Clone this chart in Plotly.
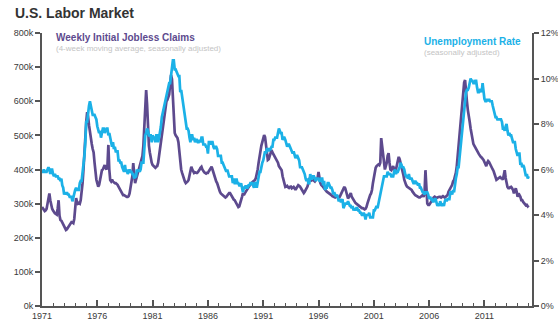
import plotly.graph_objects as go

# Monthly series, January 1971 through January 2015
start_year = 1971

# Weekly initial jobless claims, 4-week moving average (thousands), monthly readings
claims_k = [
    290, 285, 280, 278, 280, 285, 300, 315, 330, 310, 290, 285,   # 1971
    280, 275, 272, 270, 268, 285, 310, 265, 252, 250, 245, 240,   # 1972
    235, 228, 223, 225, 230, 235, 240, 245, 246, 245, 243, 255,   # 1973
    300, 316, 305, 300, 302, 300, 310, 330, 360, 400, 460, 520,   # 1974
    540, 568, 555, 530, 507, 490, 475, 460, 450, 420, 390, 370,   # 1975
    360, 350, 355, 370, 385, 398, 400, 410, 413, 405, 400, 410,   # 1976
    472, 400, 369, 365, 370, 365, 362, 360, 360, 358, 355, 350,   # 1977
    345, 340, 335, 330, 325, 325, 323, 322, 320, 320, 322, 330,   # 1978
    345, 360, 380, 419, 375, 360, 370, 380, 390, 400, 415, 428,   # 1979
    430, 440, 470, 540, 610, 633, 590, 520, 470, 450, 430, 420,   # 1980
    413, 410, 408, 405, 408, 410, 420, 440, 470, 478, 500, 520,   # 1981
    545, 570, 585, 600, 604, 610, 620, 650, 677, 665, 600, 540,   # 1982
    507, 500, 495, 492, 480, 450, 419, 400, 390, 380, 370, 365,   # 1983
    360, 362, 365, 369, 380, 395, 408, 400, 395, 390, 392, 390,   # 1984
    390, 392, 395, 400, 405, 408, 400, 395, 392, 390, 388, 390,   # 1985
    390, 395, 400, 405, 408, 400, 390, 378, 370, 365, 360, 350,   # 1986
    340, 335, 330, 328, 325, 322, 320, 318, 320, 325, 328, 331,   # 1987
    331, 325, 320, 315, 312, 310, 305, 300, 295, 290, 292, 300,   # 1988
    310, 320, 331, 325, 330, 335, 340, 345, 349, 352, 355, 360,   # 1989
    362, 365, 367, 369, 375, 385, 400, 420, 440, 457, 470, 480,   # 1990
    490, 501, 495, 470, 440, 428, 430, 440, 450, 457, 450, 445,   # 1991
    440, 435, 430, 428, 420, 410, 405, 400, 398, 380, 370, 360,   # 1992
    349, 350, 352, 348, 346, 349, 350, 345, 348, 349, 345, 340,   # 1993
    345, 350, 354, 352, 350, 345, 340, 335, 331, 335, 340, 345,   # 1994
    350, 360, 375, 370, 368, 372, 370, 368, 365, 369, 372, 375,   # 1995
    393, 370, 360, 355, 350, 349, 345, 340, 338, 335, 333, 331,   # 1996
    331, 328, 325, 322, 320, 320, 318, 320, 322, 320, 318, 320,   # 1997
    325, 330, 335, 340, 349, 345, 335, 320, 315, 320, 325, 331,   # 1998
    320, 315, 310, 305, 302, 300, 298, 295, 293, 290, 288, 287,   # 1999
    287, 285, 283, 285, 290, 300, 310, 320, 325, 330, 340, 360,   # 2000
    380, 398, 405, 410, 413, 415, 413, 420, 492, 470, 440, 408,   # 2001
    400, 410, 420, 440, 448, 420, 400, 398, 405, 410, 400, 398,   # 2002
    400, 410, 420, 437, 430, 420, 410, 398, 385, 370, 360, 355,   # 2003
    350, 348, 346, 345, 343, 340, 335, 330, 328, 325, 323, 320,   # 2004
    320, 318, 318, 320, 322, 325, 320, 330, 398, 360, 300, 296,   # 2005
    296, 300, 305, 310, 315, 318, 320, 318, 316, 318, 320, 320,   # 2006
    320, 318, 320, 322, 320, 318, 320, 322, 325, 335, 340, 345,   # 2007
    349, 355, 365, 369, 380, 390, 410, 440, 466, 490, 520, 554,   # 2008
    590, 630, 655, 662, 640, 600, 574, 560, 540, 520, 500, 486,   # 2009
    475, 470, 466, 460, 455, 450, 445, 440, 437, 435, 432, 428,   # 2010
    422, 415, 410, 420, 425, 422, 415, 410, 404, 400, 395, 385,   # 2011
    375, 370, 372, 375, 378, 378, 375, 375, 370, 385, 398, 375,   # 2012
    360, 349, 345, 345, 348, 349, 345, 340, 330, 340, 345, 335,   # 2013
    320, 330, 325, 320, 310, 310, 305, 302, 300, 295, 296, 292,   # 2014
    295,                                                          # 2015
]

# Civilian unemployment rate (%), seasonally adjusted
unemployment_pct = [
    5.9, 5.9, 6.0, 5.9, 5.9, 5.9, 6.0, 6.1, 6.0, 5.8, 6.0, 6.0,   # 1971
    5.8, 5.7, 5.8, 5.7, 5.7, 5.7, 5.6, 5.6, 5.5, 5.6, 5.3, 5.2,   # 1972
    4.9, 5.0, 4.9, 5.0, 4.9, 4.9, 4.8, 4.8, 4.8, 4.6, 4.8, 4.9,   # 1973
    5.1, 5.2, 5.1, 5.1, 5.1, 5.4, 5.5, 5.5, 5.9, 6.0, 6.6, 7.2,   # 1974
    8.1, 8.1, 8.6, 8.8, 9.0, 8.8, 8.6, 8.4, 8.4, 8.4, 8.3, 8.2,   # 1975
    7.9, 7.7, 7.6, 7.7, 7.4, 7.6, 7.8, 7.8, 7.6, 7.7, 7.8, 7.8,   # 1976
    7.5, 7.6, 7.4, 7.2, 7.0, 7.2, 6.9, 7.0, 6.8, 6.8, 6.8, 6.4,   # 1977
    6.4, 6.3, 6.3, 6.1, 6.0, 5.9, 6.2, 5.9, 6.0, 5.8, 5.9, 6.0,   # 1978
    5.9, 5.9, 5.8, 5.8, 5.6, 5.7, 5.7, 6.0, 5.9, 6.0, 5.9, 6.0,   # 1979
    6.3, 6.3, 6.3, 6.9, 7.5, 7.6, 7.8, 7.7, 7.5, 7.5, 7.5, 7.2,   # 1980
    7.5, 7.4, 7.4, 7.2, 7.5, 7.5, 7.2, 7.4, 7.6, 7.9, 8.3, 8.5,   # 1981
    8.6, 8.9, 9.0, 9.3, 9.4, 9.6, 9.8, 9.8, 10.1, 10.4, 10.8, 10.8,  # 1982
    10.4, 10.4, 10.3, 10.2, 10.1, 10.1, 9.4, 9.5, 9.2, 8.8, 8.5, 8.3,  # 1983
    8.0, 7.8, 7.8, 7.7, 7.4, 7.2, 7.5, 7.5, 7.3, 7.4, 7.2, 7.3,   # 1984
    7.3, 7.2, 7.2, 7.3, 7.2, 7.4, 7.4, 7.1, 7.1, 7.1, 7.0, 7.0,   # 1985
    6.7, 7.2, 7.2, 7.1, 7.2, 7.2, 7.0, 6.9, 7.0, 7.0, 6.9, 6.6,   # 1986
    6.6, 6.6, 6.6, 6.3, 6.3, 6.2, 6.1, 6.0, 5.9, 6.0, 5.8, 5.7,   # 1987
    5.7, 5.7, 5.7, 5.4, 5.6, 5.4, 5.4, 5.6, 5.4, 5.4, 5.3, 5.3,   # 1988
    5.4, 5.2, 5.0, 5.2, 5.2, 5.3, 5.2, 5.2, 5.3, 5.3, 5.4, 5.4,   # 1989
    5.4, 5.3, 5.2, 5.4, 5.4, 5.2, 5.5, 5.7, 5.9, 5.9, 6.2, 6.3,   # 1990
    6.4, 6.6, 6.8, 6.7, 6.9, 6.9, 6.8, 6.9, 6.9, 7.0, 7.0, 7.3,   # 1991
    7.3, 7.4, 7.4, 7.4, 7.6, 7.8, 7.7, 7.6, 7.6, 7.3, 7.4, 7.4,   # 1992
    7.3, 7.1, 7.0, 7.1, 7.1, 7.0, 6.9, 6.8, 6.7, 6.8, 6.6, 6.5,   # 1993
    6.6, 6.6, 6.5, 6.4, 6.1, 6.1, 6.1, 6.0, 5.9, 5.8, 5.6, 5.5,   # 1994
    5.6, 5.4, 5.4, 5.8, 5.6, 5.6, 5.7, 5.7, 5.6, 5.5, 5.6, 5.6,   # 1995
    5.6, 5.5, 5.5, 5.6, 5.6, 5.3, 5.5, 5.1, 5.2, 5.2, 5.4, 5.4,   # 1996
    5.3, 5.2, 5.2, 5.1, 4.9, 5.0, 4.9, 4.8, 4.9, 4.7, 4.6, 4.7,   # 1997
    4.6, 4.6, 4.7, 4.3, 4.4, 4.5, 4.5, 4.5, 4.6, 4.5, 4.4, 4.4,   # 1998
    4.3, 4.4, 4.2, 4.3, 4.2, 4.3, 4.3, 4.2, 4.2, 4.1, 4.1, 4.0,   # 1999
    4.0, 4.1, 4.0, 3.8, 4.0, 4.0, 4.0, 4.1, 3.9, 3.9, 3.9, 3.9,   # 2000
    4.2, 4.2, 4.3, 4.4, 4.3, 4.5, 4.6, 4.9, 5.0, 5.3, 5.5, 5.7,   # 2001
    5.7, 5.7, 5.7, 5.9, 5.8, 5.8, 5.8, 5.7, 5.7, 5.7, 5.9, 6.0,   # 2002
    5.8, 5.9, 5.9, 6.0, 6.1, 6.3, 6.2, 6.1, 6.1, 6.0, 5.8, 5.7,   # 2003
    5.7, 5.6, 5.8, 5.6, 5.6, 5.6, 5.5, 5.4, 5.4, 5.5, 5.4, 5.4,   # 2004
    5.3, 5.4, 5.2, 5.2, 5.1, 5.0, 5.0, 4.9, 5.0, 5.0, 5.0, 4.9,   # 2005
    4.7, 4.8, 4.7, 4.7, 4.6, 4.6, 4.7, 4.7, 4.5, 4.4, 4.5, 4.4,   # 2006
    4.6, 4.5, 4.4, 4.5, 4.4, 4.6, 4.7, 4.6, 4.7, 4.7, 4.7, 5.0,   # 2007
    5.0, 4.9, 5.1, 5.0, 5.4, 5.6, 5.8, 6.1, 6.1, 6.5, 6.8, 7.3,   # 2008
    7.8, 8.3, 8.7, 9.0, 9.4, 9.5, 9.5, 9.6, 9.8, 10.0, 9.9, 9.9,  # 2009
    9.8, 9.8, 9.9, 9.9, 9.6, 9.4, 9.4, 9.5, 9.5, 9.4, 9.8, 9.3,   # 2010
    9.1, 9.0, 9.0, 9.1, 9.0, 9.1, 9.0, 9.0, 9.0, 8.8, 8.6, 8.5,   # 2011
    8.3, 8.3, 8.2, 8.2, 8.2, 8.2, 8.2, 8.1, 7.8, 7.8, 7.7, 7.9,   # 2012
    8.0, 7.7, 7.5, 7.6, 7.5, 7.5, 7.3, 7.2, 7.2, 7.2, 6.9, 6.7,   # 2013
    6.6, 6.7, 6.7, 6.2, 6.3, 6.1, 6.2, 6.1, 5.9, 5.7, 5.8, 5.6,   # 2014
    5.7,                                                          # 2015
]

tick_years = [1971, 1976, 1981, 1986, 1991, 1996, 2001, 2006, 2011]
tick_labels = ["1971", "1976", "1981", "1986", "1991", "1996", "2001", "2006", "2011"]
claims_ticks = [0, 100, 200, 300, 400, 500, 600, 700, 800]
claims_tick_labels = ["0k", "100k", "200k", "300k", "400k", "500k", "600k", "700k", "800k"]
rate_ticks = [0, 2, 4, 6, 8, 10, 12]
rate_tick_labels = ["0%", "2%", "4%", "6%", "8%", "10%", "12%"]

# Fractional-year position of each monthly observation
months_x = [start_year + i / 12 for i in range(len(claims_k))]

PURPLE = "#5d4a8e"
BLUE = "#1bb1e7"
AXIS = "#555555"
FONT = "Liberation Sans, Arial, sans-serif"

fig = go.Figure()
fig.add_trace(go.Scatter(
    x=months_x, y=unemployment_pct, yaxis="y2", mode="lines",
    line=dict(color=BLUE, width=2.7), name="Unemployment Rate",
))
fig.add_trace(go.Scatter(
    x=months_x, y=claims_k, mode="lines",
    line=dict(color=PURPLE, width=2.7), name="Weekly Initial Jobless Claims",
))

tick_font = dict(family=FONT, size=9, color="#3a3a3a")

fig.update_layout(
    width=558, height=325,
    margin=dict(l=42, r=26, t=33, b=19),
    paper_bgcolor="white", plot_bgcolor="white",
    showlegend=False,
    font=dict(family=FONT),
    xaxis=dict(
        range=[1971, 2015.3], showgrid=False, zeroline=False, automargin=False,
        showline=True, linecolor=AXIS, linewidth=2,
        tickmode="array", tickvals=tick_years, ticktext=tick_labels,
        ticks="inside", ticklen=6, tickwidth=1.5, tickcolor=AXIS,
        tickfont=tick_font,
        minor=dict(dtick=1, tick0=1971, ticks="inside", ticklen=3,
                   tickwidth=1, tickcolor=AXIS, showgrid=False),
    ),
    yaxis=dict(
        range=[0, 800], showgrid=False, zeroline=False, automargin=False,
        showline=True, linecolor=AXIS, linewidth=2,
        tickmode="array", tickvals=claims_ticks, ticktext=claims_tick_labels,
        ticks="outside", ticklen=5, tickwidth=1.5, tickcolor=AXIS,
        tickfont=tick_font,
    ),
    yaxis2=dict(
        range=[0, 12], overlaying="y", side="right",
        showgrid=False, zeroline=False, automargin=False,
        showline=True, linecolor=AXIS, linewidth=2,
        tickmode="array", tickvals=rate_ticks, ticktext=rate_tick_labels,
        ticks="outside", ticklen=5, tickwidth=1.5, tickcolor=AXIS,
        tickfont=tick_font,
    ),
)

fig.add_annotation(
    text="<b>U.S. Labor Market</b>", xref="paper", yref="paper",
    x=-0.059, y=1.0, yshift=20, xanchor="left", yanchor="middle",
    showarrow=False, font=dict(family=FONT, size=14, color="#333333"),
)
fig.add_annotation(
    text="<b>Weekly Initial Jobless Claims</b>", xref="paper", yref="paper",
    x=0.0245, y=1.0, yshift=-4, xanchor="left", yanchor="middle",
    showarrow=False, font=dict(family=FONT, size=10, color=PURPLE),
)
fig.add_annotation(
    text="(4-week moving average, seasonally adjusted)", xref="paper", yref="paper",
    x=0.0245, y=1.0, yshift=-15, xanchor="left", yanchor="middle",
    showarrow=False, font=dict(family=FONT, size=8, color="#c4c4c4"),
)
fig.add_annotation(
    text="<b>Unemployment Rate</b>", xref="paper", yref="paper",
    x=0.7755, y=1.0, yshift=-8, xanchor="left", yanchor="middle",
    showarrow=False, font=dict(family=FONT, size=10, color=BLUE),
)
fig.add_annotation(
    text="(seasonally adjusted)", xref="paper", yref="paper",
    x=0.7755, y=1.0, yshift=-19, xanchor="left", yanchor="middle",
    showarrow=False, font=dict(family=FONT, size=8, color="#c4c4c4"),
)

fig.write_html("out.html")
